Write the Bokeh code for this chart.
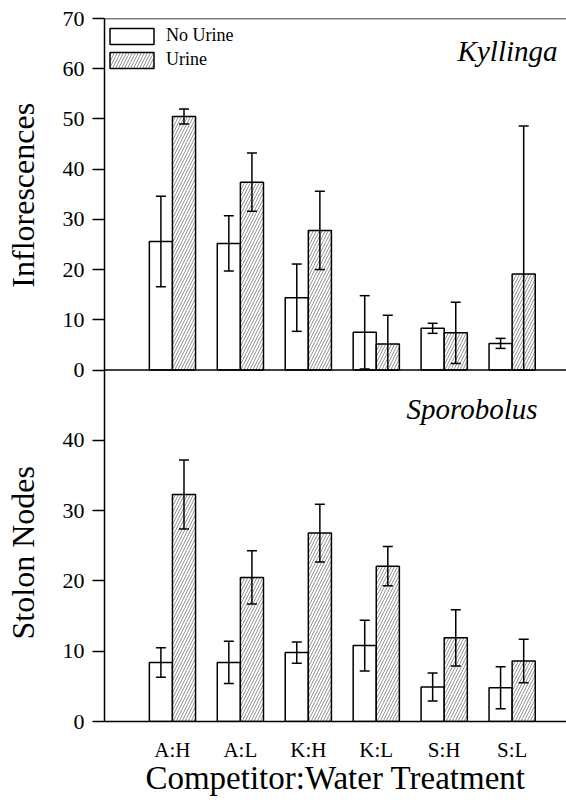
import numpy as np
from bokeh.plotting import figure
from bokeh.models import (Range1d, LinearAxis, FixedTicker, Span, Whisker, TeeHead,
                          ColumnDataSource, Legend, LegendItem, Label)
from bokeh.transform import dodge
from bokeh.embed import file_html
from bokeh.resources import INLINE

# ---------------- data ----------------
categories = ["A:H", "A:L", "K:H", "K:L", "S:H", "S:L"]
positions = [1, 2, 3, 4, 5, 6]

# Kyllinga: inflorescences
kyl_no_urine = [25.6, 25.2, 14.4, 7.5, 8.3, 5.3]
kyl_no_urine_err = [9.0, 5.5, 6.7, 7.3, 1.0, 1.0]
kyl_urine = [50.5, 37.4, 27.8, 5.2, 7.4, 19.1]
kyl_urine_err = [1.5, 5.8, 7.8, 5.7, 6.1, 29.5]

# Sporobolus: stolon nodes
spo_no_urine = [8.4, 8.4, 9.8, 10.8, 4.9, 4.8]
spo_no_urine_err = [2.1, 3.0, 1.5, 3.6, 2.0, 3.0]
spo_urine = [32.3, 20.5, 26.8, 22.1, 11.9, 8.6]
spo_urine_err = [4.9, 3.8, 4.1, 2.8, 4.0, 3.1]

top_ticks = [0, 10, 20, 30, 40, 50, 60, 70]
bottom_ticks = [0, 10, 20, 30, 40]

FONT = "Liberation Serif"
LW = 1.5
DX = 0.17
BW = 0.34

# main range for the top panel (0..70 in upper half), extra range for the lower panel (0..50 in lower half)
TOP_START, TOP_END = -70.0, 70.0
BOT_START, BOT_END = 0.0, 100.0

p = figure(frame_width=462, frame_height=703,
           min_border_left=104, min_border_right=0, min_border_top=18, min_border_bottom=86,
           x_range=Range1d(0, 6.8), y_range=Range1d(TOP_START, TOP_END),
           output_backend="svg", toolbar_location=None)
p.extra_y_ranges = {"bot": Range1d(BOT_START, BOT_END)}
p.outline_line_color = None
p.xgrid.visible = False
p.ygrid.visible = False
p.background_fill_color = "white"
p.border_fill_color = "white"


def bot_to_main(v):
    return round(TOP_START + (v - BOT_START) * (TOP_END - TOP_START) / (BOT_END - BOT_START), 6)


def clip0(vals):
    return [max(float(v), 0.0) for v in vals]


def make_source(nu, nu_err, u, u_err):
    return ColumnDataSource(dict(
        x=positions, nu=nu, u=u,
        nu_lo=clip0(np.subtract(nu, nu_err)), nu_hi=list(np.add(nu, nu_err)),
        u_lo=clip0(np.subtract(u, u_err)), u_hi=list(np.add(u, u_err)),
    ))


top_src = make_source(kyl_no_urine, kyl_no_urine_err, kyl_urine, kyl_urine_err)
bot_src = make_source(spo_no_urine, spo_no_urine_err, spo_urine, spo_urine_err)

hatch = dict(hatch_pattern="/", hatch_color="#666666", hatch_weight=0.7, hatch_scale=6)

renderers = {}
for src, rname in [(top_src, "default"), (bot_src, "bot")]:
    r_nu = p.vbar(x=dodge("x", -DX, range=p.x_range), top="nu", bottom=0, width=BW, source=src,
                  fill_color="white", line_color="black", line_width=LW, y_range_name=rname)
    r_u = p.vbar(x=dodge("x", DX, range=p.x_range), top="u", bottom=0, width=BW, source=src,
                 fill_color="white", line_color="black", line_width=LW, y_range_name=rname, **hatch)
    renderers[rname] = (r_nu, r_u)
    for off, lo, hi in [(-DX, "nu_lo", "nu_hi"), (DX, "u_lo", "u_hi")]:
        w = Whisker(base=dodge("x", off, range=p.x_range), lower=lo, upper=hi, source=src,
                    dimension="height", line_color="black", line_width=LW, y_range_name=rname,
                    upper_head=TeeHead(size=10, line_color="black", line_width=LW),
                    lower_head=TeeHead(size=10, line_color="black", line_width=LW),
                    level="overlay")
        p.add_layout(w)

# panel lines
p.add_layout(Span(location=70, dimension="width", line_color="black", line_width=LW))
p.add_layout(Span(location=0, dimension="width", line_color="black", line_width=LW))

# y axis with ticks for both panels
ticks = [float(t) for t in top_ticks] + [bot_to_main(t) for t in bottom_ticks]
overrides = {bot_to_main(t): str(t) for t in bottom_ticks}
yax = p.yaxis[0]
yax.ticker = FixedTicker(ticks=ticks)
yax.major_label_overrides = overrides
yax.minor_tick_line_color = None
yax.major_tick_out = 12
yax.major_tick_in = 0
yax.major_tick_line_width = LW
yax.axis_line_width = LW
yax.major_label_text_font = FONT
yax.major_label_text_font_size = "22px"
yax.major_label_text_color = "black"
yax.major_label_standoff = 8

# outer left axis carrying the two panel titles
y_titles = ["Inflorescences", "Stolon Nodes"]
y_title_pos = [34.8, bot_to_main(24.0)]
tax = LinearAxis(ticker=FixedTicker(ticks=y_title_pos),
                 major_label_overrides={pos: t for pos, t in zip(y_title_pos, y_titles)},
                 axis_line_color=None, major_tick_line_color=None, minor_tick_line_color=None,
                 major_tick_out=0, major_tick_in=0,
                 major_label_orientation="vertical",
                 major_label_text_font=FONT, major_label_text_font_size="32px",
                 major_label_text_color="black", major_label_standoff=18)
p.add_layout(tax, "left")

# x axis
xax = p.xaxis[0]
xax.ticker = FixedTicker(ticks=positions)
xax.major_label_overrides = {pos: c for pos, c in zip(positions, categories)}
xax.major_tick_line_color = None
xax.minor_tick_line_color = None
xax.major_tick_out = 0
xax.major_tick_in = 0
xax.axis_line_width = LW
xax.major_label_text_font = FONT
xax.major_label_text_font_size = "21px"
xax.major_label_text_color = "black"
xax.major_label_standoff = 16
xax.axis_label = "Competitor:Water Treatment"
xax.axis_label_text_font = FONT
xax.axis_label_text_font_style = "normal"
xax.axis_label_text_font_size = "33px"
xax.axis_label_text_color = "black"
xax.axis_label_standoff = -5

# species labels
p.add_layout(Label(x=453, x_units="screen", y=63.6, y_units="data", text="Kyllinga",
                   text_align="right", text_baseline="middle", text_font=FONT,
                   text_font_style="italic", text_font_size="29px", text_color="black"))
p.add_layout(Label(x=433, x_units="screen", y=44.5, y_units="data", y_range_name="bot",
                   text="Sporobolus",
                   text_align="right", text_baseline="middle", text_font=FONT,
                   text_font_style="italic", text_font_size="29px", text_color="black"))

# legend
r_nu, r_u = renderers["default"]
legend = Legend(items=[LegendItem(label="No Urine", renderers=[r_nu]),
                       LegendItem(label="Urine", renderers=[r_u])],
                location=(0, 651))
legend.glyph_width = 55
legend.glyph_height = 20
legend.label_height = 20
legend.label_standoff = 7
legend.spacing = 3
legend.padding = 0
legend.margin = 0
legend.border_line_color = None
legend.background_fill_alpha = 0
legend.label_text_font = FONT
legend.label_text_font_size = "18px"
legend.label_text_color = "black"
p.add_layout(legend)

open("out.html", "w").write(file_html(p, INLINE))
